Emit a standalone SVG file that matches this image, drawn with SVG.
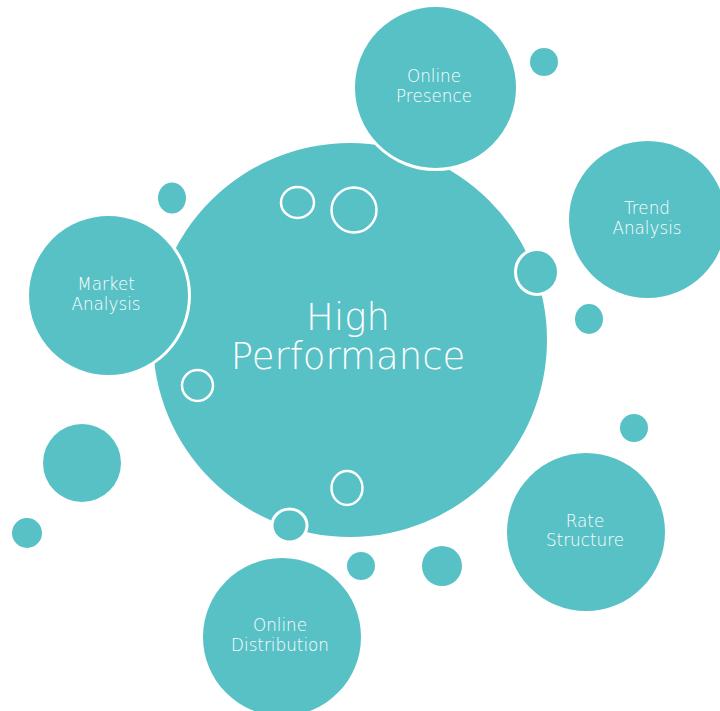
<svg xmlns="http://www.w3.org/2000/svg" width="720" height="711" viewBox="0 0 720 711">
  <style>
    .bub { fill: #58C1C6; }
    .edge { fill: #58C1C6; stroke: #FFFFFF; stroke-width: 3; }
    .ring { fill: none; stroke: #FFFFFF; stroke-width: 2.5; }
    .lbl { font-family: "DejaVu Sans", "Liberation Sans", sans-serif; font-weight: 200; fill: #FFFFFF; text-anchor: middle; }
    .small { font-size: 16.8px; }
    .big { font-size: 37px; }
  </style>
  <rect width="720" height="711" fill="#FFFFFF"/>

  <!-- central bubble -->
  <g id="high-performance">
    <circle class="bub" cx="350" cy="340" r="197"/>
    <text class="lbl big" x="348" y="330">High<tspan x="348" dy="39">Performance</tspan></text>
  </g>

  <!-- satellite bubbles -->
  <g id="online-presence">
    <circle class="edge" cx="435.5" cy="87.5" r="82"/>
    <text class="lbl small" x="434" y="82">Online<tspan x="434" dy="20">Presence</tspan></text>
  </g>
  <g id="trend-analysis">
    <circle class="bub" cx="647.5" cy="219.5" r="78.5"/>
    <text class="lbl small" x="647" y="214">Trend<tspan x="647" dy="20">Analysis</tspan></text>
  </g>
  <g id="market-analysis">
    <circle class="edge" cx="108.5" cy="295.5" r="81"/>
    <text class="lbl small" x="106" y="290">Market<tspan x="106" dy="20">Analysis</tspan></text>
  </g>
  <g id="rate-structure">
    <circle class="bub" cx="586" cy="532" r="79"/>
    <text class="lbl small" x="585" y="527">Rate<tspan x="585" dy="19">Structure</tspan></text>
  </g>
  <g id="online-distribution">
    <circle class="bub" cx="282" cy="637" r="79"/>
    <text class="lbl small" x="280" y="631">Online<tspan x="280" dy="20">Distribution</tspan></text>
  </g>

  <!-- decorative dots -->
  <g id="dots">
    <circle class="bub" cx="544" cy="62" r="14"/>
    <ellipse class="bub" cx="589" cy="319" rx="14" ry="15"/>
    <ellipse class="bub" cx="172" cy="198" rx="14" ry="15.5"/>
    <circle class="bub" cx="82" cy="463" r="39"/>
    <circle class="bub" cx="27" cy="533" r="15"/>
    <circle class="bub" cx="634" cy="428" r="14"/>
    <circle class="bub" cx="361" cy="566" r="14"/>
    <circle class="bub" cx="442" cy="566" r="20"/>
    <ellipse class="edge" cx="537" cy="272" rx="21.5" ry="22.5"/>
    <ellipse class="edge" cx="289.5" cy="525.5" rx="17.5" ry="16.5"/>
  </g>

  <!-- hollow rings -->
  <g id="rings">
    <ellipse class="ring" cx="297.5" cy="202.5" rx="16.5" ry="15.5"/>
    <circle class="ring" cx="354" cy="210" r="22.5"/>
    <circle class="ring" cx="197.5" cy="385.5" r="15.5"/>
    <ellipse class="ring" cx="347" cy="488" rx="15.5" ry="17"/>
  </g>
</svg>
